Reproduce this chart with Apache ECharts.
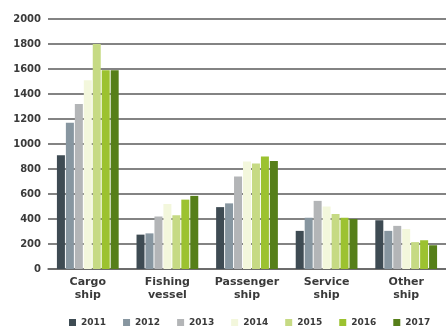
<!DOCTYPE html>
<html>
<head>
<meta charset="utf-8">
<script src="https://cdn.jsdelivr.net/npm/echarts@6/dist/echarts.min.js"></script>
<style>
  html, body { margin: 0; padding: 0; background: #fff; }
  #chart { width: 446px; height: 331px; }
</style>
</head>
<body>
<div id="chart"></div>
<script>
const categories = ['Cargo\nship', 'Fishing\nvessel', 'Passenger\nship', 'Service\nship', 'Other\nship']
const years = ['2011', '2012', '2013', '2014', '2015', '2016', '2017']
const values2011 = [910, 275, 495, 305, 390]
const values2012 = [1170, 285, 525, 410, 305]
const values2013 = [1320, 420, 740, 545, 345]
const values2014 = [1510, 520, 860, 500, 320]
const values2015 = [1800, 430, 845, 440, 215]
const values2016 = [1590, 555, 900, 410, 230]
const values2017 = [1590, 585, 865, 400, 190]
const colors = ['#3e4b53', '#8796a0', '#b3b5b7', '#f3f7dc', '#c6da84', '#9cc230', '#567f19']

const allValues = [values2011, values2012, values2013, values2014, values2015, values2016, values2017]
const labelFont = { fontFamily: 'DejaVu Sans', fontWeight: 'bold', color: '#3a3a3a' }

const chart = echarts.init(document.getElementById('chart'))
chart.setOption({
  animation: false,
  grid: { left: 48, right: 0, top: 19, bottom: 62, containLabel: false },
  legend: {
    top: 313,
    left: 64,
    width: 380,
    itemWidth: 7,
    itemHeight: 7,
    itemGap: 17,
    icon: 'rect',
    textStyle: { fontFamily: 'DejaVu Sans', fontWeight: 'bold', fontSize: 9, color: '#3a3a3a' },
    data: years
  },
  xAxis: {
    type: 'category',
    data: categories,
    axisLine: { show: true, lineStyle: { color: '#666', width: 1.5 } },
    axisTick: { show: false },
    axisLabel: Object.assign({ interval: 0, fontSize: 11, lineHeight: 13, margin: 7 }, labelFont)
  },
  yAxis: {
    type: 'value',
    min: 0,
    max: 2000,
    interval: 200,
    axisLine: { show: false },
    axisTick: { show: false },
    axisLabel: Object.assign({ fontSize: 10, margin: 7, formatter: v => String(v) }, labelFont),
    splitLine: { show: true, lineStyle: { color: '#5a5a5a', width: 1.5 } }
  },
  series: years.map((y, i) => ({
    name: y,
    type: 'bar',
    data: allValues[i],
    barWidth: 8,
    barGap: '12%',
    itemStyle: { color: colors[i] }
  }))
})
</script>
</body>
</html>
